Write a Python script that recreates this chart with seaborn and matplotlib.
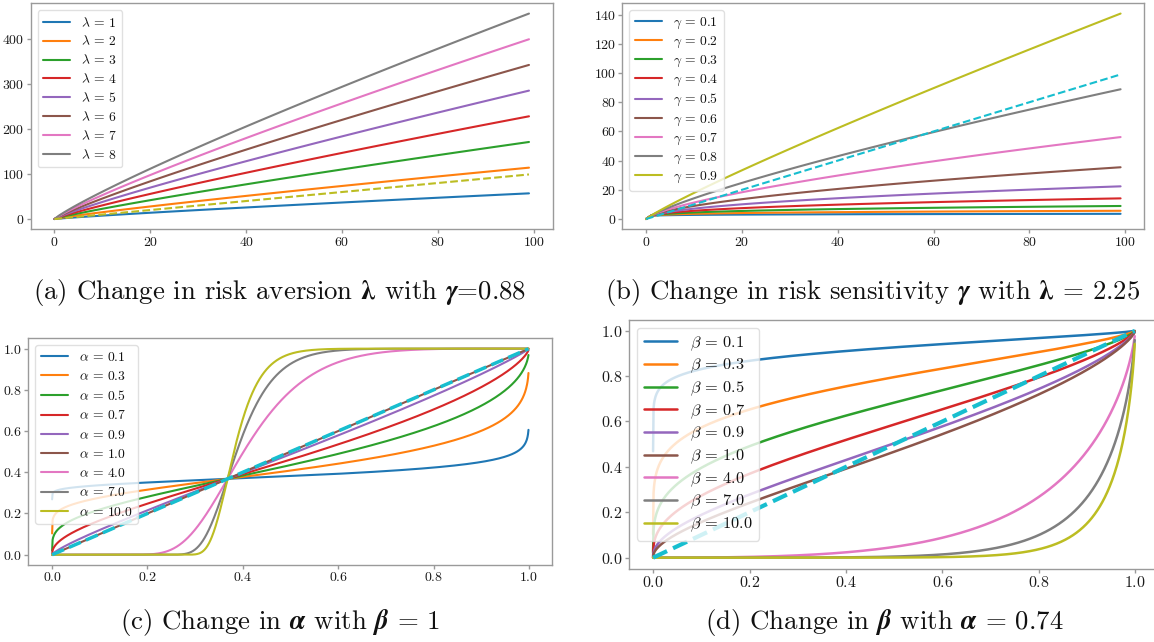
import numpy as np
import matplotlib
matplotlib.use("Agg")
import matplotlib.pyplot as plt
from matplotlib.ticker import MultipleLocator
import seaborn as sns

# ---------------- data (parameters shown in the legends / captions) ----------------
OUTCOMES = np.arange(100)                       # x values of panels (a) and (b)
PROBS = np.linspace(2e-7, 0.999, 1000)          # x values of panels (c) and (d)

LAMBDAS = [1, 2, 3, 4, 5, 6, 7, 8]              # panel (a)
GAMMA_A = 0.88
GAMMAS = [0.1, 0.2, 0.3, 0.4, 0.5, 0.6, 0.7, 0.8, 0.9]   # panel (b)
LAMBDA_B = 2.25
ALPHAS = [0.1, 0.3, 0.5, 0.7, 0.9, 1.0, 4.0, 7.0, 10.0]  # panel (c)
BETA_C = 1.0
BETAS = [0.1, 0.3, 0.5, 0.7, 0.9, 1.0, 4.0, 7.0, 10.0]   # panel (d)
ALPHA_D = 0.74

CAPTIONS = [
    r"(a) Change in risk aversion $\boldsymbol{\lambda}$ with $\boldsymbol{\gamma}$=0.88",
    r"(b) Change in risk sensitivity $\boldsymbol{\gamma}$ with $\boldsymbol{\lambda}$ = 2.25",
    r"(c) Change in $\boldsymbol{\alpha}$ with $\boldsymbol{\beta}$ = 1",
    r"(d) Change in $\boldsymbol{\beta}$ with $\boldsymbol{\alpha}$ = 0.74",
]

# ---------------- style ----------------
sns.set_theme(style="ticks")
plt.rcParams.update({
    "font.family": "serif",
    "font.serif": ["cmr10"],
    "mathtext.fontset": "cm",
    "axes.unicode_minus": False,
    "axes.formatter.use_mathtext": True,
    "text.color": "#111111",
    "axes.edgecolor": "#9a9a9a",
    "axes.linewidth": 1.0,
    "xtick.color": "#9a9a9a",
    "ytick.color": "#9a9a9a",
    "xtick.labelcolor": "#1a1a1a",
    "ytick.labelcolor": "#1a1a1a",
    "xtick.major.size": 3.0,
    "ytick.major.size": 3.0,
    "xtick.major.width": 1.0,
    "ytick.major.width": 1.0,
    "xtick.major.pad": 1.5,
    "ytick.major.pad": 1.5,
})

PALETTE = sns.color_palette("tab10", 10)

W, H = 1154, 642
fig = plt.figure(figsize=(W / 100, H / 100), dpi=100)


def add_axes(x0, x1, y0, y1):
    return fig.add_axes([x0 / W, 1 - y1 / H, (x1 - x0) / W, (y1 - y0) / H])


def finish(ax, fs, leg_fs, spacing, xstep, ystep):
    ax.set_xlabel("")
    ax.set_ylabel("")
    ax.xaxis.set_major_locator(MultipleLocator(xstep))
    ax.yaxis.set_major_locator(MultipleLocator(ystep))
    for s in ax.spines.values():
        s.set_visible(True)
    ax.tick_params(labelsize=fs)
    ax.legend(loc="upper left", fontsize=leg_fs, frameon=True, framealpha=0.8,
              edgecolor="0.85", fancybox=True, labelspacing=spacing,
              handlelength=2.0, borderaxespad=0.5, labelcolor="#111111")


# panel (a)
ax = add_axes(30.7, 552.7, 3.3, 229.3)
for i, lam in enumerate(LAMBDAS):
    sns.lineplot(x=OUTCOMES, y=lam * OUTCOMES ** GAMMA_A, ax=ax, color=PALETTE[i],
                 lw=1.5, label=rf"$\lambda\,=\,{lam}$", sort=False, estimator=None)
sns.lineplot(x=OUTCOMES, y=OUTCOMES, ax=ax, color=PALETTE[8], lw=1.5,
             linestyle="--", sort=False, estimator=None)
finish(ax, 10, 9.8, 0.36, 20, 100)

# panel (b)
ax = add_axes(622.3, 1144.3, 3.3, 229.3)
for i, g in enumerate(GAMMAS):
    sns.lineplot(x=OUTCOMES, y=LAMBDA_B * OUTCOMES ** g, ax=ax, color=PALETTE[i],
                 lw=1.5, label=rf"$\gamma\,=\,{g}$", sort=False, estimator=None)
sns.lineplot(x=OUTCOMES, y=OUTCOMES, ax=ax, color=PALETTE[9], lw=1.5,
             linestyle="--", sort=False, estimator=None)
finish(ax, 10, 9.8, 0.29, 20, 20)

# panel (c)
ax = add_axes(28.3, 552.3, 338.3, 565.0)
for i, a in enumerate(ALPHAS):
    sns.lineplot(x=PROBS, y=np.exp(-BETA_C * (-np.log(PROBS)) ** a), ax=ax,
                 color=PALETTE[i], lw=1.5, label=rf"$\alpha\,=\,{a}$",
                 sort=False, estimator=None)
sns.lineplot(x=PROBS, y=PROBS, ax=ax, color=PALETTE[9], lw=2.5,
             linestyle="--", sort=False, estimator=None)
finish(ax, 10, 9.8, 0.46, 0.2, 0.2)

# panel (d)
ax = add_axes(629.0, 1158.8, 319.5, 569.0)
for i, b in enumerate(BETAS):
    sns.lineplot(x=PROBS, y=np.exp(-b * (-np.log(PROBS)) ** ALPHA_D), ax=ax,
                 color=PALETTE[i], lw=1.8, label=rf"$\beta\,=\,{b}$",
                 sort=False, estimator=None)
sns.lineplot(x=PROBS, y=PROBS, ax=ax, color=PALETTE[9], lw=3.0,
             linestyle="--", sort=False, estimator=None)
finish(ax, 11.5, 11.8, 0.26, 0.2, 0.2)

# captions
CAP_POS = [(280, 293), (873, 293), (280, 623), (884, 623)]
for (cx, cy), txt in zip(CAP_POS, CAPTIONS):
    fig.text(cx / W, 1 - cy / H, txt, ha="center", va="center", fontsize=19.3,
             color="#111111", math_fontfamily="stix")

fig.savefig("out.png", dpi=100)
